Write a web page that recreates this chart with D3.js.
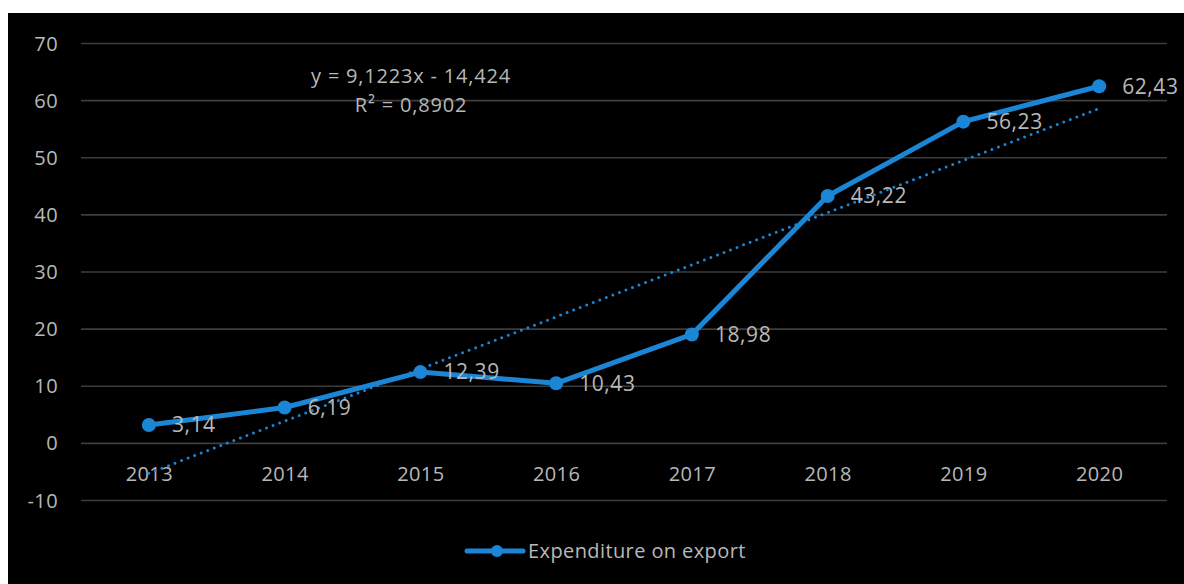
<!DOCTYPE html>
<html>
<head>
<meta charset="utf-8">
<script src="https://cdn.jsdelivr.net/npm/d3@7"></script>
<style>
  html, body { margin: 0; padding: 0; background: #ffffff; }
  svg { display: block; }
  text { font-family: "Open Sans", "DejaVu Sans", sans-serif; fill: #b8b8b8; }
</style>
</head>
<body>
<svg id="chart" width="1184" height="584"></svg>
<script>
// Expenditure on export, by year
const years = ["2013", "2014", "2015", "2016", "2017", "2018", "2019", "2020"];
const expenditure = [3.14, 6.19, 12.39, 10.43, 18.98, 43.22, 56.23, 62.43];
const yTicks = [-10, 0, 10, 20, 30, 40, 50, 60, 70];
const seriesName = "Expenditure on export";

// Linear trendline coefficients (x = 1..8)
const trendSlope = 9.1223;
const trendIntercept = -14.424;
const trendR2 = 0.8902;

const fmt = v => String(v).replace(".", ",");

const svg = d3.select("#chart");
const blue = "#1b86d6";

// dark chart panel
svg.append("rect")
  .attr("x", 8).attr("y", 13)
  .attr("width", 1176).attr("height", 571)
  .attr("fill", "#000000");

const x = d3.scalePoint().domain(years).range([81, 1167]).padding(0.5);
const y = d3.scaleLinear().domain([-10, 70]).range([500, 43]);

// horizontal gridlines + y tick labels
const yAxis = d3.axisLeft(y).tickValues(yTicks).tickSize(-(1167 - 81)).tickPadding(23).tickFormat(d => d);
const gy = svg.append("g").attr("transform", "translate(81,0)").call(yAxis);
gy.select(".domain").remove();
gy.selectAll(".tick line").attr("stroke", "#3d3d3d").attr("stroke-width", 1.6);
gy.selectAll(".tick text").attr("fill", "#b8b8b8")
  .style("font-size", "20px").style("letter-spacing", "0.4px").attr("dy", "0.35em");

// category labels beside the zero line
const xAxis = d3.axisBottom(x).tickSize(0).tickPadding(31);
const gx = svg.append("g").attr("transform", `translate(0,${y(0)})`).call(xAxis);
gx.select(".domain").remove();
gx.selectAll(".tick text").attr("fill", "#b8b8b8")
  .style("font-size", "20px").style("letter-spacing", "0.4px").attr("dy", "0.35em");

// dotted linear trendline
const trendPts = [years[0], years[years.length - 1]].map(yr => {
  const i = years.indexOf(yr) + 1;
  return [x(yr), y(trendSlope * i + trendIntercept)];
});
svg.append("path")
  .attr("d", d3.line()(trendPts))
  .attr("fill", "none")
  .attr("stroke", blue)
  .attr("stroke-width", 3)
  .attr("stroke-linecap", "round")
  .attr("stroke-dasharray", "0 7");

// series line
const line = d3.line().x((d, i) => x(years[i])).y(d => y(d));
svg.append("path")
  .datum(expenditure)
  .attr("d", line)
  .attr("fill", "none")
  .attr("stroke", blue)
  .attr("stroke-width", 5)
  .attr("stroke-linejoin", "round");

// markers
svg.selectAll("circle.pt")
  .data(expenditure)
  .join("circle")
  .attr("class", "pt")
  .attr("cx", (d, i) => x(years[i]))
  .attr("cy", d => y(d))
  .attr("r", 7)
  .attr("fill", blue);

// value labels to the right of each point
svg.selectAll("text.val")
  .data(expenditure)
  .join("text")
  .attr("class", "val")
  .attr("x", (d, i) => x(years[i]) + 23)
  .attr("y", d => y(d))
  .attr("dy", "0.35em")
  .style("font-size", "21px")
  .style("letter-spacing", "0.6px")
  .text(d => fmt(d));

// trendline equation
const eq = svg.append("text")
  .attr("x", 411).attr("y", 76)
  .attr("text-anchor", "middle")
  .style("font-size", "20px")
  .style("letter-spacing", "0.8px");
eq.append("tspan").attr("x", 411).attr("dy", "0.35em")
  .text(`y = ${fmt(trendSlope)}x - ${fmt(-trendIntercept)}`);
eq.append("tspan").attr("x", 411).attr("dy", "1.45em")
  .text(`R² = ${fmt(trendR2)}`);

// legend
const lg = svg.append("g").attr("transform", "translate(467,551)");
lg.append("line").attr("x1", 0).attr("x2", 56).attr("y1", 0).attr("y2", 0)
  .attr("stroke", blue).attr("stroke-width", 5).attr("stroke-linecap", "round");
lg.append("circle").attr("cx", 30).attr("cy", 0).attr("r", 6).attr("fill", blue);
lg.append("text").attr("x", 61).attr("y", 0).attr("dy", "0.35em")
  .style("font-size", "20px").style("letter-spacing", "0.4px").text(seriesName);
</script>
</body>
</html>
